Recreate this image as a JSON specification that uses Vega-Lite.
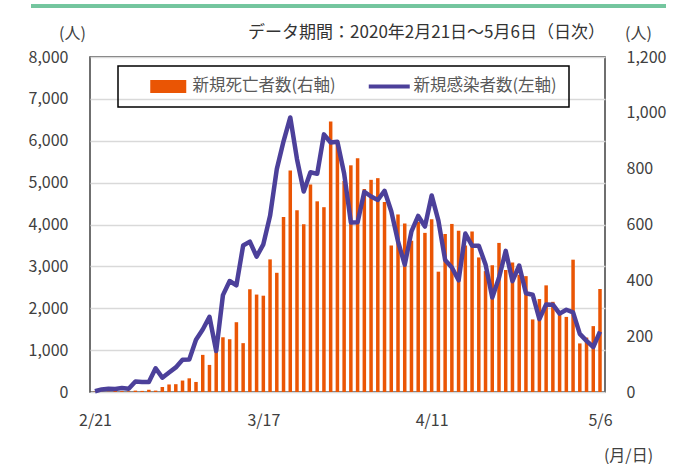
{
  "$schema": "https://vega.github.io/schema/vega-lite/v6.json",
  "width": 515,
  "height": 335,
  "autosize": {"type": "none"},
  "padding": {"left": 90, "top": 57, "right": 81, "bottom": 72},
  "config": {
    "font": "Noto Sans CJK JP",
    "view": {"stroke": "#404040", "strokeWidth": 1.5},
    "axis": {
      "labelFont": "Noto Sans CJK JP",
      "labelFontSize": 16,
      "labelColor": "#404040",
      "titleFont": "Noto Sans CJK JP",
      "titleFontSize": 16,
      "titleFontWeight": "normal",
      "titleColor": "#404040",
      "ticks": false,
      "tickSize": 0,
      "domain": false
    }
  },
  "title": {
    "text": "データ期間：2020年2月21日～5月6日（日次）",
    "anchor": "end",
    "frame": "group",
    "orient": "top",
    "font": "Noto Sans CJK JP",
    "fontSize": 17,
    "fontWeight": "normal",
    "color": "#333333",
    "baseline": "middle",
    "offset": -45
  },
  "data": {
    "values": [
      {"date": "2020-02-21", "cases": 17, "deaths": 1},
      {"date": "2020-02-22", "cases": 62, "deaths": 1},
      {"date": "2020-02-23", "cases": 78, "deaths": 1},
      {"date": "2020-02-24", "cases": 72, "deaths": 4},
      {"date": "2020-02-25", "cases": 93, "deaths": 3},
      {"date": "2020-02-26", "cases": 78, "deaths": 2},
      {"date": "2020-02-27", "cases": 250, "deaths": 5},
      {"date": "2020-02-28", "cases": 238, "deaths": 4},
      {"date": "2020-02-29", "cases": 240, "deaths": 8},
      {"date": "2020-03-01", "cases": 566, "deaths": 5},
      {"date": "2020-03-02", "cases": 342, "deaths": 18},
      {"date": "2020-03-03", "cases": 466, "deaths": 27},
      {"date": "2020-03-04", "cases": 587, "deaths": 28},
      {"date": "2020-03-05", "cases": 769, "deaths": 41},
      {"date": "2020-03-06", "cases": 778, "deaths": 49},
      {"date": "2020-03-07", "cases": 1247, "deaths": 36},
      {"date": "2020-03-08", "cases": 1492, "deaths": 133},
      {"date": "2020-03-09", "cases": 1797, "deaths": 97},
      {"date": "2020-03-10", "cases": 977, "deaths": 168},
      {"date": "2020-03-11", "cases": 2313, "deaths": 196},
      {"date": "2020-03-12", "cases": 2651, "deaths": 189},
      {"date": "2020-03-13", "cases": 2547, "deaths": 250},
      {"date": "2020-03-14", "cases": 3497, "deaths": 175},
      {"date": "2020-03-15", "cases": 3590, "deaths": 368},
      {"date": "2020-03-16", "cases": 3233, "deaths": 349},
      {"date": "2020-03-17", "cases": 3526, "deaths": 345},
      {"date": "2020-03-18", "cases": 4207, "deaths": 475},
      {"date": "2020-03-19", "cases": 5322, "deaths": 427},
      {"date": "2020-03-20", "cases": 5986, "deaths": 627},
      {"date": "2020-03-21", "cases": 6557, "deaths": 793},
      {"date": "2020-03-22", "cases": 5560, "deaths": 651},
      {"date": "2020-03-23", "cases": 4789, "deaths": 601},
      {"date": "2020-03-24", "cases": 5249, "deaths": 743},
      {"date": "2020-03-25", "cases": 5210, "deaths": 683},
      {"date": "2020-03-26", "cases": 6153, "deaths": 662},
      {"date": "2020-03-27", "cases": 5959, "deaths": 969},
      {"date": "2020-03-28", "cases": 5974, "deaths": 889},
      {"date": "2020-03-29", "cases": 5217, "deaths": 756},
      {"date": "2020-03-30", "cases": 4050, "deaths": 812},
      {"date": "2020-03-31", "cases": 4053, "deaths": 837},
      {"date": "2020-04-01", "cases": 4782, "deaths": 727},
      {"date": "2020-04-02", "cases": 4668, "deaths": 760},
      {"date": "2020-04-03", "cases": 4585, "deaths": 766},
      {"date": "2020-04-04", "cases": 4805, "deaths": 681},
      {"date": "2020-04-05", "cases": 4316, "deaths": 525},
      {"date": "2020-04-06", "cases": 3599, "deaths": 636},
      {"date": "2020-04-07", "cases": 3039, "deaths": 604},
      {"date": "2020-04-08", "cases": 3836, "deaths": 542},
      {"date": "2020-04-09", "cases": 4204, "deaths": 610},
      {"date": "2020-04-10", "cases": 3951, "deaths": 570},
      {"date": "2020-04-11", "cases": 4694, "deaths": 619},
      {"date": "2020-04-12", "cases": 4092, "deaths": 431},
      {"date": "2020-04-13", "cases": 3153, "deaths": 566},
      {"date": "2020-04-14", "cases": 2972, "deaths": 602},
      {"date": "2020-04-15", "cases": 2667, "deaths": 578},
      {"date": "2020-04-16", "cases": 3786, "deaths": 525},
      {"date": "2020-04-17", "cases": 3493, "deaths": 575},
      {"date": "2020-04-18", "cases": 3491, "deaths": 482},
      {"date": "2020-04-19", "cases": 3047, "deaths": 433},
      {"date": "2020-04-20", "cases": 2256, "deaths": 454},
      {"date": "2020-04-21", "cases": 2729, "deaths": 534},
      {"date": "2020-04-22", "cases": 3370, "deaths": 437},
      {"date": "2020-04-23", "cases": 2646, "deaths": 464},
      {"date": "2020-04-24", "cases": 3021, "deaths": 420},
      {"date": "2020-04-25", "cases": 2357, "deaths": 415},
      {"date": "2020-04-26", "cases": 2324, "deaths": 260},
      {"date": "2020-04-27", "cases": 1739, "deaths": 333},
      {"date": "2020-04-28", "cases": 2091, "deaths": 382},
      {"date": "2020-04-29", "cases": 2086, "deaths": 323},
      {"date": "2020-04-30", "cases": 1872, "deaths": 285},
      {"date": "2020-05-01", "cases": 1965, "deaths": 269},
      {"date": "2020-05-02", "cases": 1900, "deaths": 474},
      {"date": "2020-05-03", "cases": 1389, "deaths": 174},
      {"date": "2020-05-04", "cases": 1221, "deaths": 195},
      {"date": "2020-05-05", "cases": 1075, "deaths": 236},
      {"date": "2020-05-06", "cases": 1444, "deaths": 369}
    ]
  },
  "layer": [
    {
      "mark": {"type": "bar", "size": 3.5},
      "encoding": {
        "x": {
          "field": "date",
          "type": "temporal",
          "scale": {
            "type": "utc",
            "domain": [
              {"year": 2020, "month": 2, "date": 21, "utc": true},
              {"year": 2020, "month": 5, "date": 6, "utc": true}
            ]
          },
          "axis": {
            "values": [
              {"year": 2020, "month": 2, "date": 21, "utc": true},
              {"year": 2020, "month": 3, "date": 17, "utc": true},
              {"year": 2020, "month": 4, "date": 11, "utc": true},
              {"year": 2020, "month": 5, "date": 6, "utc": true}
            ],
            "labelExpr": "utcFormat(datum.value, '%-m/%-d')",
            "grid": false,
            "labelFlush": false,
            "labelOverlap": false,
            "labelBound": false,
            "labelPadding": 20,
            "title": "(月/日)",
            "titleX": 538,
            "titleY": 63,
            "titleAlign": "center",
            "titleBaseline": "middle",
            "titleAngle": 0
          }
        },
        "y": {
          "field": "deaths",
          "type": "quantitative",
          "scale": {"domain": [0, 1200], "nice": false, "zero": true},
          "axis": {
            "orient": "right",
            "values": [0, 200, 400, 600, 800, 1000, 1200],
            "labelExpr": "format(datum.value, ',')",
            "grid": false,
            "labelPadding": 21,
            "title": "(人)",
            "titleAngle": 0,
            "titleX": 33,
            "titleY": -24,
            "titleAlign": "center",
            "titleBaseline": "middle"
          }
        },
        "color": {
          "datum": "新規死亡者数(右軸)",
          "type": "nominal",
          "scale": {
            "domain": ["新規死亡者数(右軸)", "新規感染者数(左軸)"],
            "range": ["#EA5504", "#4C409A"]
          },
          "legend": {
            "orient": "none",
            "legendX": 28,
            "legendY": 9,
            "direction": "horizontal",
            "title": null,
            "strokeColor": "#000000",
            "padding": 12,
            "labelFont": "Noto Sans CJK JP",
            "labelFontSize": 16.5,
            "labelColor": "#595959",
            "columnPadding": 15,
            "labelOffset": 16,
            "symbolSize": 100,
            "symbolOffset": 30,
            "symbolType": "M-3.6,-1.3H3.6V1.3H-3.6Z",
            "encode": {
              "legend": {"update": {"strokeWidth": {"value": 1.5}}},
              "symbols": {
                "update": {
                  "shape": {"signal": "datum.value === '新規感染者数(左軸)' ? 'M-4.1,-0.4H4.1V0.4H-4.1Z' : 'M-3.6,-1.3H3.6V1.3H-3.6Z'"},
                  "fill": {"signal": "scale('color', datum.value)"},
                  "stroke": {"value": "transparent"},
                  "strokeWidth": {"value": 0},
                  "opacity": {"value": 1},
                  "fillOpacity": {"value": 1}
                }
              }
            }
          }
        }
      }
    },
    {
      "mark": {"type": "line", "strokeWidth": 4.5, "strokeJoin": "round"},
      "encoding": {
        "x": {"field": "date", "type": "temporal"},
        "y": {
          "field": "cases",
          "type": "quantitative",
          "scale": {"domain": [0, 8000], "nice": false, "zero": true},
          "axis": {
            "orient": "left",
            "values": [0, 1000, 2000, 3000, 4000, 5000, 6000, 7000, 8000],
            "labelExpr": "format(datum.value, ',')",
            "grid": true,
            "gridColor": "#D9D9D9",
            "gridWidth": 1.5,
            "labelPadding": 22,
            "title": "(人)",
            "titleAngle": 0,
            "titleX": -18,
            "titleY": -24,
            "titleAlign": "center",
            "titleBaseline": "middle"
          }
        },
        "color": {"datum": "新規感染者数(左軸)", "type": "nominal"}
      }
    },
    {
      "mark": {"type": "rule", "color": "#74C59E", "strokeWidth": 3},
      "encoding": {
        "x": {"datum": {"year": 2020, "month": 2, "date": 11, "hours": 12, "utc": true}, "type": "temporal"},
        "x2": {"datum": {"year": 2020, "month": 5, "date": 15, "hours": 18, "utc": true}},
        "y": {"datum": 9214, "type": "quantitative", "scale": {"domain": [0, 8000], "nice": false}, "axis": null}
      }
    }
  ],
  "resolve": {"scale": {"y": "independent"}}
}
